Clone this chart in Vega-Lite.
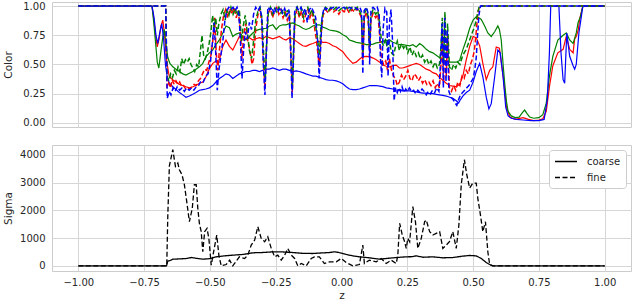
{
"$schema": "https://vega.github.io/schema/vega-lite/v6.json",
"padding": {"left": 2, "top": 0, "right": 1, "bottom": 0},
"spacing": 15,
"resolve": {"legend": {"strokeDash": "independent"}},
"datasets": {
"cr": [{"x":-1,"y":1},{"x":-0.72,"y":1},{"x":-0.714,"y":0.9},{"x":-0.708,"y":0.78},{"x":-0.7,"y":0.65},{"x":-0.693,"y":0.72},{"x":-0.686,"y":0.83},{"x":-0.679,"y":0.88},{"x":-0.672,"y":0.75},{"x":-0.665,"y":0.55},{"x":-0.658,"y":0.44},{"x":-0.654,"y":0.395},{"x":-0.641,"y":0.37},{"x":-0.629,"y":0.35},{"x":-0.616,"y":0.33},{"x":-0.603,"y":0.32},{"x":-0.591,"y":0.31},{"x":-0.578,"y":0.3},{"x":-0.565,"y":0.31},{"x":-0.553,"y":0.32},{"x":-0.54,"y":0.34},{"x":-0.527,"y":0.35},{"x":-0.515,"y":0.395},{"x":-0.502,"y":0.465},{"x":-0.489,"y":0.51},{"x":-0.477,"y":0.53},{"x":-0.464,"y":0.54},{"x":-0.451,"y":0.655},{"x":-0.439,"y":0.71},{"x":-0.426,"y":0.655},{"x":-0.413,"y":0.625},{"x":-0.401,"y":0.68},{"x":-0.388,"y":0.74},{"x":-0.375,"y":0.73},{"x":-0.363,"y":0.72},{"x":-0.35,"y":0.73},{"x":-0.337,"y":0.71},{"x":-0.325,"y":0.72},{"x":-0.312,"y":0.73},{"x":-0.3,"y":0.72},{"x":-0.287,"y":0.74},{"x":-0.274,"y":0.73},{"x":-0.261,"y":0.72},{"x":-0.248,"y":0.73},{"x":-0.236,"y":0.74},{"x":-0.223,"y":0.72},{"x":-0.211,"y":0.71},{"x":-0.198,"y":0.73},{"x":-0.185,"y":0.72},{"x":-0.172,"y":0.7},{"x":-0.16,"y":0.68},{"x":-0.147,"y":0.66},{"x":-0.135,"y":0.655},{"x":-0.122,"y":0.67},{"x":-0.109,"y":0.68},{"x":-0.097,"y":0.69},{"x":-0.084,"y":0.7},{"x":-0.071,"y":0.69},{"x":-0.059,"y":0.69},{"x":-0.046,"y":0.68},{"x":-0.033,"y":0.66},{"x":-0.02,"y":0.65},{"x":-0.008,"y":0.63},{"x":0.005,"y":0.61},{"x":0.018,"y":0.57},{"x":0.03,"y":0.54},{"x":0.043,"y":0.51},{"x":0.056,"y":0.52},{"x":0.068,"y":0.545},{"x":0.081,"y":0.567},{"x":0.094,"y":0.57},{"x":0.107,"y":0.567},{"x":0.12,"y":0.555},{"x":0.132,"y":0.54},{"x":0.145,"y":0.52},{"x":0.157,"y":0.495},{"x":0.17,"y":0.485},{"x":0.183,"y":0.48},{"x":0.195,"y":0.49},{"x":0.208,"y":0.495},{"x":0.22,"y":0.47},{"x":0.233,"y":0.47},{"x":0.246,"y":0.48},{"x":0.259,"y":0.49},{"x":0.271,"y":0.5},{"x":0.284,"y":0.51},{"x":0.297,"y":0.5},{"x":0.309,"y":0.48},{"x":0.322,"y":0.46},{"x":0.335,"y":0.45},{"x":0.347,"y":0.43},{"x":0.36,"y":0.42},{"x":0.372,"y":0.39},{"x":0.385,"y":0.365},{"x":0.398,"y":0.34},{"x":0.411,"y":0.32},{"x":0.423,"y":0.315},{"x":0.436,"y":0.31},{"x":0.449,"y":0.33},{"x":0.461,"y":0.4},{"x":0.474,"y":0.54},{"x":0.487,"y":0.655},{"x":0.5,"y":0.74},{"x":0.512,"y":0.73},{"x":0.525,"y":0.66},{"x":0.537,"y":0.51},{"x":0.55,"y":0.37},{"x":0.563,"y":0.45},{"x":0.575,"y":0.48},{"x":0.588,"y":0.65},{"x":0.6,"y":0.64},{"x":0.614,"y":0.4},{"x":0.627,"y":0.13},{"x":0.64,"y":0.05},{"x":0.66,"y":0.03},{"x":0.69,"y":0.045},{"x":0.71,"y":0.03},{"x":0.73,"y":0.02},{"x":0.75,"y":0.025},{"x":0.765,"y":0.035},{"x":0.778,"y":0.1},{"x":0.79,"y":0.31},{"x":0.803,"y":0.49},{"x":0.822,"y":0.6},{"x":0.842,"y":0.63},{"x":0.854,"y":0.74},{"x":0.867,"y":0.63},{"x":0.88,"y":0.6},{"x":0.886,"y":0.72},{"x":0.892,"y":0.74},{"x":0.9,"y":0.8},{"x":0.905,"y":0.89},{"x":0.917,"y":1},{"x":1,"y":1}],
"cg": [{"x":-1,"y":1},{"x":-0.72,"y":1},{"x":-0.713,"y":0.85},{"x":-0.707,"y":0.7},{"x":-0.7,"y":0.52},{"x":-0.694,"y":0.47},{"x":-0.687,"y":0.6},{"x":-0.68,"y":0.72},{"x":-0.674,"y":0.8},{"x":-0.667,"y":0.68},{"x":-0.66,"y":0.56},{"x":-0.652,"y":0.51},{"x":-0.641,"y":0.48},{"x":-0.629,"y":0.46},{"x":-0.616,"y":0.44},{"x":-0.603,"y":0.42},{"x":-0.591,"y":0.41},{"x":-0.578,"y":0.425},{"x":-0.565,"y":0.44},{"x":-0.553,"y":0.46},{"x":-0.54,"y":0.48},{"x":-0.527,"y":0.51},{"x":-0.515,"y":0.567},{"x":-0.502,"y":0.6},{"x":-0.489,"y":0.625},{"x":-0.477,"y":0.67},{"x":-0.464,"y":0.71},{"x":-0.451,"y":0.77},{"x":-0.439,"y":0.83},{"x":-0.426,"y":0.815},{"x":-0.413,"y":0.74},{"x":-0.401,"y":0.76},{"x":-0.388,"y":0.77},{"x":-0.375,"y":0.74},{"x":-0.363,"y":0.71},{"x":-0.35,"y":0.74},{"x":-0.337,"y":0.77},{"x":-0.325,"y":0.79},{"x":-0.312,"y":0.8},{"x":-0.3,"y":0.805},{"x":-0.287,"y":0.81},{"x":-0.274,"y":0.83},{"x":-0.261,"y":0.84},{"x":-0.248,"y":0.8},{"x":-0.236,"y":0.83},{"x":-0.223,"y":0.84},{"x":-0.211,"y":0.84},{"x":-0.198,"y":0.85},{"x":-0.185,"y":0.856},{"x":-0.172,"y":0.84},{"x":-0.16,"y":0.83},{"x":-0.147,"y":0.81},{"x":-0.135,"y":0.8},{"x":-0.122,"y":0.81},{"x":-0.109,"y":0.83},{"x":-0.097,"y":0.84},{"x":-0.084,"y":0.84},{"x":-0.071,"y":0.82},{"x":-0.059,"y":0.81},{"x":-0.046,"y":0.795},{"x":-0.033,"y":0.79},{"x":-0.02,"y":0.785},{"x":-0.008,"y":0.775},{"x":0.005,"y":0.755},{"x":0.018,"y":0.74},{"x":0.03,"y":0.71},{"x":0.043,"y":0.7},{"x":0.056,"y":0.69},{"x":0.068,"y":0.685},{"x":0.081,"y":0.68},{"x":0.094,"y":0.67},{"x":0.107,"y":0.67},{"x":0.12,"y":0.675},{"x":0.132,"y":0.685},{"x":0.145,"y":0.69},{"x":0.157,"y":0.7},{"x":0.17,"y":0.705},{"x":0.183,"y":0.71},{"x":0.195,"y":0.69},{"x":0.208,"y":0.68},{"x":0.22,"y":0.67},{"x":0.233,"y":0.67},{"x":0.246,"y":0.665},{"x":0.259,"y":0.66},{"x":0.271,"y":0.67},{"x":0.284,"y":0.65},{"x":0.297,"y":0.68},{"x":0.309,"y":0.66},{"x":0.322,"y":0.63},{"x":0.335,"y":0.61},{"x":0.347,"y":0.6},{"x":0.36,"y":0.58},{"x":0.372,"y":0.56},{"x":0.385,"y":0.54},{"x":0.398,"y":0.53},{"x":0.411,"y":0.52},{"x":0.423,"y":0.52},{"x":0.436,"y":0.52},{"x":0.449,"y":0.535},{"x":0.461,"y":0.625},{"x":0.474,"y":0.71},{"x":0.487,"y":0.81},{"x":0.5,"y":0.88},{"x":0.512,"y":0.91},{"x":0.522,"y":0.9},{"x":0.531,"y":0.885},{"x":0.544,"y":0.83},{"x":0.556,"y":0.77},{"x":0.569,"y":0.74},{"x":0.582,"y":0.78},{"x":0.594,"y":0.83},{"x":0.6,"y":0.8},{"x":0.607,"y":0.71},{"x":0.614,"y":0.5},{"x":0.62,"y":0.34},{"x":0.627,"y":0.18},{"x":0.633,"y":0.1},{"x":0.645,"y":0.06},{"x":0.66,"y":0.045},{"x":0.675,"y":0.05},{"x":0.688,"y":0.09},{"x":0.696,"y":0.11},{"x":0.705,"y":0.08},{"x":0.715,"y":0.05},{"x":0.73,"y":0.04},{"x":0.75,"y":0.045},{"x":0.765,"y":0.07},{"x":0.778,"y":0.17},{"x":0.79,"y":0.4},{"x":0.803,"y":0.57},{"x":0.822,"y":0.71},{"x":0.842,"y":0.75},{"x":0.854,"y":0.77},{"x":0.867,"y":0.71},{"x":0.88,"y":0.68},{"x":0.892,"y":0.77},{"x":0.899,"y":0.86},{"x":0.908,"y":0.91},{"x":0.917,"y":1},{"x":1,"y":1}],
"cb": [{"x":-1,"y":1},{"x":-0.72,"y":1},{"x":-0.712,"y":0.9},{"x":-0.705,"y":0.75},{"x":-0.698,"y":0.68},{"x":-0.69,"y":0.78},{"x":-0.683,"y":0.85},{"x":-0.676,"y":0.72},{"x":-0.669,"y":0.5},{"x":-0.662,"y":0.39},{"x":-0.654,"y":0.34},{"x":-0.641,"y":0.31},{"x":-0.628,"y":0.285},{"x":-0.616,"y":0.26},{"x":-0.603,"y":0.24},{"x":-0.591,"y":0.22},{"x":-0.578,"y":0.23},{"x":-0.565,"y":0.245},{"x":-0.553,"y":0.26},{"x":-0.54,"y":0.28},{"x":-0.527,"y":0.285},{"x":-0.515,"y":0.29},{"x":-0.502,"y":0.3},{"x":-0.489,"y":0.32},{"x":-0.477,"y":0.35},{"x":-0.464,"y":0.38},{"x":-0.451,"y":0.4},{"x":-0.439,"y":0.42},{"x":-0.426,"y":0.41},{"x":-0.413,"y":0.38},{"x":-0.401,"y":0.4},{"x":-0.388,"y":0.42},{"x":-0.375,"y":0.43},{"x":-0.363,"y":0.44},{"x":-0.35,"y":0.44},{"x":-0.337,"y":0.45},{"x":-0.325,"y":0.45},{"x":-0.312,"y":0.44},{"x":-0.3,"y":0.45},{"x":-0.287,"y":0.46},{"x":-0.274,"y":0.46},{"x":-0.261,"y":0.47},{"x":-0.248,"y":0.46},{"x":-0.236,"y":0.45},{"x":-0.223,"y":0.46},{"x":-0.211,"y":0.46},{"x":-0.198,"y":0.45},{"x":-0.185,"y":0.44},{"x":-0.172,"y":0.445},{"x":-0.16,"y":0.44},{"x":-0.147,"y":0.43},{"x":-0.135,"y":0.42},{"x":-0.122,"y":0.41},{"x":-0.109,"y":0.4},{"x":-0.097,"y":0.4},{"x":-0.084,"y":0.39},{"x":-0.071,"y":0.38},{"x":-0.059,"y":0.37},{"x":-0.046,"y":0.365},{"x":-0.033,"y":0.365},{"x":-0.02,"y":0.36},{"x":-0.008,"y":0.35},{"x":0.005,"y":0.335},{"x":0.018,"y":0.31},{"x":0.03,"y":0.29},{"x":0.043,"y":0.285},{"x":0.056,"y":0.285},{"x":0.068,"y":0.29},{"x":0.081,"y":0.3},{"x":0.094,"y":0.31},{"x":0.107,"y":0.32},{"x":0.12,"y":0.32},{"x":0.132,"y":0.32},{"x":0.145,"y":0.315},{"x":0.157,"y":0.31},{"x":0.17,"y":0.3},{"x":0.183,"y":0.295},{"x":0.195,"y":0.29},{"x":0.208,"y":0.28},{"x":0.22,"y":0.28},{"x":0.233,"y":0.275},{"x":0.246,"y":0.275},{"x":0.259,"y":0.275},{"x":0.271,"y":0.27},{"x":0.284,"y":0.265},{"x":0.297,"y":0.26},{"x":0.309,"y":0.255},{"x":0.322,"y":0.255},{"x":0.335,"y":0.25},{"x":0.347,"y":0.25},{"x":0.36,"y":0.245},{"x":0.372,"y":0.24},{"x":0.385,"y":0.235},{"x":0.398,"y":0.23},{"x":0.411,"y":0.22},{"x":0.423,"y":0.21},{"x":0.436,"y":0.19},{"x":0.445,"y":0.17},{"x":0.452,"y":0.2},{"x":0.461,"y":0.23},{"x":0.474,"y":0.26},{"x":0.487,"y":0.28},{"x":0.5,"y":0.35},{"x":0.512,"y":0.44},{"x":0.525,"y":0.51},{"x":0.537,"y":0.395},{"x":0.55,"y":0.22},{"x":0.56,"y":0.12},{"x":0.569,"y":0.165},{"x":0.582,"y":0.395},{"x":0.594,"y":0.625},{"x":0.603,"y":0.6},{"x":0.614,"y":0.395},{"x":0.624,"y":0.135},{"x":0.633,"y":0.06},{"x":0.645,"y":0.04},{"x":0.665,"y":0.03},{"x":0.69,"y":0.025},{"x":0.72,"y":0.02},{"x":0.75,"y":0.02},{"x":0.77,"y":0.03},{"x":0.782,"y":0.2},{"x":0.79,"y":0.6},{"x":0.795,"y":1},{"x":0.826,"y":1},{"x":0.834,"y":0.6},{"x":0.842,"y":0.37},{"x":0.848,"y":0.34},{"x":0.856,"y":0.77},{"x":0.867,"y":0.57},{"x":0.88,"y":0.49},{"x":0.886,"y":0.46},{"x":0.892,"y":0.5},{"x":0.902,"y":0.77},{"x":0.91,"y":0.89},{"x":0.917,"y":1},{"x":1,"y":1}],
"fr": [{"x":-1,"y":1},{"x":-0.668,"y":1},{"x":-0.663,"y":0.3},{"x":-0.657,"y":0.34},{"x":-0.65,"y":0.3},{"x":-0.643,"y":0.37},{"x":-0.636,"y":0.33},{"x":-0.629,"y":0.36},{"x":-0.622,"y":0.33},{"x":-0.615,"y":0.35},{"x":-0.607,"y":0.31},{"x":-0.6,"y":0.32},{"x":-0.592,"y":0.29},{"x":-0.584,"y":0.3},{"x":-0.576,"y":0.29},{"x":-0.568,"y":0.31},{"x":-0.56,"y":0.33},{"x":-0.552,"y":0.32},{"x":-0.544,"y":0.36},{"x":-0.536,"y":0.38},{"x":-0.528,"y":0.42},{"x":-0.52,"y":0.46},{"x":-0.512,"y":0.45},{"x":-0.504,"y":0.52},{"x":-0.496,"y":0.58},{"x":-0.488,"y":0.72},{"x":-0.482,"y":0.9},{"x":-0.476,"y":0.6},{"x":-0.47,"y":0.45},{"x":-0.464,"y":0.62},{"x":-0.456,"y":0.8},{"x":-0.448,"y":0.92},{"x":-0.44,"y":0.97},{"x":-0.432,"y":0.9},{"x":-0.424,"y":0.98},{"x":-0.416,"y":0.93},{"x":-0.408,"y":0.99},{"x":-0.4,"y":0.9},{"x":-0.392,"y":0.96},{"x":-0.385,"y":0.8},{"x":-0.378,"y":0.55},{"x":-0.372,"y":0.75},{"x":-0.364,"y":0.85},{"x":-0.356,"y":0.7},{"x":-0.348,"y":0.62},{"x":-0.34,"y":0.5},{"x":-0.334,"y":0.55},{"x":-0.326,"y":0.8},{"x":-0.318,"y":0.92},{"x":-0.31,"y":0.98},{"x":-0.303,"y":0.85},{"x":-0.297,"y":0.55},{"x":-0.291,"y":0.3},{"x":-0.286,"y":0.6},{"x":-0.28,"y":0.93},{"x":-0.27,"y":0.98},{"x":-0.262,"y":0.9},{"x":-0.254,"y":0.96},{"x":-0.246,"y":0.99},{"x":-0.238,"y":0.93},{"x":-0.23,"y":0.97},{"x":-0.222,"y":0.9},{"x":-0.214,"y":0.95},{"x":-0.206,"y":0.88},{"x":-0.198,"y":0.93},{"x":-0.192,"y":0.55},{"x":-0.187,"y":0.26},{"x":-0.182,"y":0.6},{"x":-0.176,"y":0.92},{"x":-0.168,"y":0.97},{"x":-0.16,"y":0.9},{"x":-0.152,"y":0.96},{"x":-0.144,"y":0.86},{"x":-0.136,"y":0.93},{"x":-0.128,"y":0.97},{"x":-0.12,"y":0.9},{"x":-0.112,"y":0.95},{"x":-0.104,"y":0.84},{"x":-0.096,"y":0.72},{"x":-0.09,"y":0.6},{"x":-0.084,"y":0.48},{"x":-0.078,"y":0.75},{"x":-0.07,"y":0.92},{"x":-0.06,"y":0.97},{"x":-0.05,"y":0.94},{"x":-0.04,"y":0.98},{"x":-0.03,"y":0.95},{"x":-0.02,"y":0.97},{"x":-0.01,"y":0.93},{"x":0,"y":0.97},{"x":0.01,"y":0.95},{"x":0.02,"y":0.98},{"x":0.03,"y":0.94},{"x":0.04,"y":0.97},{"x":0.05,"y":0.95},{"x":0.06,"y":0.98},{"x":0.07,"y":0.93},{"x":0.076,"y":0.9},{"x":0.081,"y":0.54},{"x":0.087,"y":0.9},{"x":0.095,"y":0.95},{"x":0.102,"y":0.85},{"x":0.107,"y":0.6},{"x":0.112,"y":0.88},{"x":0.12,"y":0.94},{"x":0.13,"y":0.9},{"x":0.138,"y":0.93},{"x":0.145,"y":0.75},{"x":0.152,"y":0.55},{"x":0.16,"y":0.5},{"x":0.168,"y":0.53},{"x":0.175,"y":0.45},{"x":0.182,"y":0.55},{"x":0.19,"y":0.45},{"x":0.198,"y":0.4},{"x":0.205,"y":0.38},{"x":0.212,"y":0.32},{"x":0.22,"y":0.35},{"x":0.228,"y":0.41},{"x":0.236,"y":0.37},{"x":0.244,"y":0.4},{"x":0.252,"y":0.45},{"x":0.26,"y":0.38},{"x":0.268,"y":0.36},{"x":0.276,"y":0.42},{"x":0.284,"y":0.4},{"x":0.292,"y":0.36},{"x":0.3,"y":0.39},{"x":0.308,"y":0.34},{"x":0.316,"y":0.37},{"x":0.324,"y":0.33},{"x":0.332,"y":0.35},{"x":0.34,"y":0.32},{"x":0.348,"y":0.36},{"x":0.356,"y":0.3},{"x":0.364,"y":0.34},{"x":0.372,"y":0.3},{"x":0.378,"y":0.5},{"x":0.383,"y":0.78},{"x":0.388,"y":0.35},{"x":0.393,"y":0.9},{"x":0.398,"y":0.4},{"x":0.403,"y":0.75},{"x":0.41,"y":0.3},{"x":0.418,"y":0.27},{"x":0.426,"y":0.32},{"x":0.434,"y":0.28},{"x":0.442,"y":0.35},{"x":0.45,"y":0.32},{"x":0.458,"y":0.4},{"x":0.466,"y":0.38},{"x":0.474,"y":0.45},{"x":0.482,"y":0.42},{"x":0.49,"y":0.5},{"x":0.498,"y":0.55},{"x":0.505,"y":0.62},{"x":0.512,"y":0.78},{"x":0.518,"y":0.94},{"x":0.524,"y":1},{"x":1,"y":1}],
"fg": [{"x":-1,"y":1},{"x":-0.668,"y":1},{"x":-0.663,"y":0.4},{"x":-0.656,"y":0.36},{"x":-0.649,"y":0.42},{"x":-0.642,"y":0.39},{"x":-0.635,"y":0.45},{"x":-0.628,"y":0.42},{"x":-0.621,"y":0.48},{"x":-0.614,"y":0.44},{"x":-0.607,"y":0.55},{"x":-0.6,"y":0.5},{"x":-0.593,"y":0.54},{"x":-0.586,"y":0.52},{"x":-0.579,"y":0.55},{"x":-0.572,"y":0.5},{"x":-0.565,"y":0.47},{"x":-0.558,"y":0.44},{"x":-0.55,"y":0.5},{"x":-0.543,"y":0.48},{"x":-0.536,"y":0.62},{"x":-0.53,"y":0.75},{"x":-0.524,"y":0.58},{"x":-0.517,"y":0.55},{"x":-0.51,"y":0.6},{"x":-0.503,"y":0.68},{"x":-0.496,"y":0.78},{"x":-0.49,"y":0.92},{"x":-0.484,"y":0.82},{"x":-0.478,"y":0.9},{"x":-0.472,"y":0.75},{"x":-0.466,"y":0.85},{"x":-0.458,"y":0.93},{"x":-0.45,"y":0.97},{"x":-0.442,"y":0.88},{"x":-0.436,"y":0.96},{"x":-0.428,"y":0.92},{"x":-0.42,"y":0.99},{"x":-0.412,"y":0.93},{"x":-0.404,"y":0.98},{"x":-0.396,"y":0.92},{"x":-0.388,"y":0.97},{"x":-0.38,"y":0.7},{"x":-0.374,"y":0.82},{"x":-0.366,"y":0.92},{"x":-0.358,"y":0.78},{"x":-0.35,"y":0.62},{"x":-0.342,"y":0.55},{"x":-0.334,"y":0.7},{"x":-0.326,"y":0.88},{"x":-0.318,"y":0.95},{"x":-0.31,"y":0.99},{"x":-0.302,"y":0.9},{"x":-0.296,"y":0.6},{"x":-0.29,"y":0.35},{"x":-0.285,"y":0.65},{"x":-0.278,"y":0.95},{"x":-0.27,"y":0.99},{"x":-0.262,"y":0.93},{"x":-0.254,"y":0.98},{"x":-0.246,"y":0.95},{"x":-0.238,"y":0.99},{"x":-0.23,"y":0.94},{"x":-0.222,"y":0.97},{"x":-0.214,"y":0.92},{"x":-0.206,"y":0.96},{"x":-0.198,"y":0.95},{"x":-0.192,"y":0.6},{"x":-0.187,"y":0.3},{"x":-0.182,"y":0.65},{"x":-0.176,"y":0.95},{"x":-0.168,"y":0.99},{"x":-0.16,"y":0.93},{"x":-0.152,"y":0.98},{"x":-0.144,"y":0.9},{"x":-0.136,"y":0.96},{"x":-0.128,"y":0.99},{"x":-0.12,"y":0.93},{"x":-0.112,"y":0.97},{"x":-0.104,"y":0.9},{"x":-0.096,"y":0.8},{"x":-0.09,"y":0.7},{"x":-0.084,"y":0.58},{"x":-0.078,"y":0.82},{"x":-0.07,"y":0.95},{"x":-0.06,"y":0.99},{"x":-0.05,"y":0.96},{"x":-0.04,"y":0.99},{"x":-0.03,"y":0.97},{"x":-0.02,"y":0.99},{"x":-0.01,"y":0.96},{"x":0,"y":0.98},{"x":0.01,"y":0.97},{"x":0.02,"y":0.99},{"x":0.03,"y":0.96},{"x":0.04,"y":0.99},{"x":0.05,"y":0.97},{"x":0.06,"y":0.99},{"x":0.07,"y":0.95},{"x":0.076,"y":0.92},{"x":0.081,"y":0.6},{"x":0.087,"y":0.94},{"x":0.095,"y":0.97},{"x":0.102,"y":0.9},{"x":0.107,"y":0.65},{"x":0.112,"y":0.92},{"x":0.12,"y":0.97},{"x":0.13,"y":0.93},{"x":0.138,"y":0.96},{"x":0.145,"y":0.85},{"x":0.152,"y":0.7},{"x":0.16,"y":0.66},{"x":0.168,"y":0.72},{"x":0.175,"y":0.62},{"x":0.182,"y":0.7},{"x":0.19,"y":0.6},{"x":0.198,"y":0.58},{"x":0.205,"y":0.65},{"x":0.212,"y":0.7},{"x":0.22,"y":0.62},{"x":0.228,"y":0.68},{"x":0.236,"y":0.64},{"x":0.244,"y":0.67},{"x":0.252,"y":0.6},{"x":0.26,"y":0.65},{"x":0.268,"y":0.58},{"x":0.276,"y":0.62},{"x":0.284,"y":0.57},{"x":0.292,"y":0.6},{"x":0.3,"y":0.55},{"x":0.308,"y":0.58},{"x":0.316,"y":0.52},{"x":0.324,"y":0.55},{"x":0.332,"y":0.5},{"x":0.34,"y":0.53},{"x":0.348,"y":0.48},{"x":0.356,"y":0.52},{"x":0.364,"y":0.47},{"x":0.372,"y":0.5},{"x":0.378,"y":0.65},{"x":0.383,"y":0.9},{"x":0.388,"y":0.5},{"x":0.393,"y":0.95},{"x":0.398,"y":0.55},{"x":0.403,"y":0.85},{"x":0.41,"y":0.48},{"x":0.418,"y":0.45},{"x":0.426,"y":0.5},{"x":0.434,"y":0.47},{"x":0.442,"y":0.52},{"x":0.45,"y":0.5},{"x":0.458,"y":0.56},{"x":0.466,"y":0.6},{"x":0.474,"y":0.63},{"x":0.482,"y":0.68},{"x":0.49,"y":0.73},{"x":0.498,"y":0.78},{"x":0.505,"y":0.82},{"x":0.512,"y":0.88},{"x":0.518,"y":0.95},{"x":0.524,"y":1},{"x":1,"y":1}],
"fb": [{"x":-1,"y":1},{"x":-0.668,"y":1},{"x":-0.662,"y":0.21},{"x":-0.655,"y":0.27},{"x":-0.648,"y":0.24},{"x":-0.64,"y":0.3},{"x":-0.632,"y":0.27},{"x":-0.624,"y":0.31},{"x":-0.615,"y":0.28},{"x":-0.606,"y":0.3},{"x":-0.597,"y":0.27},{"x":-0.588,"y":0.3},{"x":-0.579,"y":0.28},{"x":-0.57,"y":0.3},{"x":-0.561,"y":0.28},{"x":-0.552,"y":0.31},{"x":-0.543,"y":0.32},{"x":-0.534,"y":0.36},{"x":-0.525,"y":0.35},{"x":-0.516,"y":0.4},{"x":-0.507,"y":0.42},{"x":-0.498,"y":0.52},{"x":-0.49,"y":0.7},{"x":-0.484,"y":0.86},{"x":-0.478,"y":0.6},{"x":-0.472,"y":0.28},{"x":-0.466,"y":0.45},{"x":-0.458,"y":0.58},{"x":-0.45,"y":0.72},{"x":-0.443,"y":0.88},{"x":-0.436,"y":0.96},{"x":-0.428,"y":0.99},{"x":-0.42,"y":0.97},{"x":-0.412,"y":0.99},{"x":-0.404,"y":0.96},{"x":-0.397,"y":0.99},{"x":-0.39,"y":0.93},{"x":-0.384,"y":0.7},{"x":-0.378,"y":0.38},{"x":-0.372,"y":0.62},{"x":-0.366,"y":0.78},{"x":-0.358,"y":0.72},{"x":-0.35,"y":0.86},{"x":-0.342,"y":0.8},{"x":-0.334,"y":0.93},{"x":-0.326,"y":0.99},{"x":-0.318,"y":0.96},{"x":-0.31,"y":0.99},{"x":-0.303,"y":0.9},{"x":-0.297,"y":0.5},{"x":-0.291,"y":0.24},{"x":-0.286,"y":0.55},{"x":-0.28,"y":0.99},{"x":-0.272,"y":0.97},{"x":-0.264,"y":0.99},{"x":-0.256,"y":0.93},{"x":-0.248,"y":0.99},{"x":-0.24,"y":0.96},{"x":-0.232,"y":0.99},{"x":-0.224,"y":0.94},{"x":-0.216,"y":0.98},{"x":-0.208,"y":0.92},{"x":-0.2,"y":0.97},{"x":-0.193,"y":0.6},{"x":-0.188,"y":0.21},{"x":-0.183,"y":0.5},{"x":-0.178,"y":0.95},{"x":-0.17,"y":0.99},{"x":-0.162,"y":0.96},{"x":-0.154,"y":0.99},{"x":-0.146,"y":0.94},{"x":-0.138,"y":0.98},{"x":-0.13,"y":0.86},{"x":-0.122,"y":0.97},{"x":-0.114,"y":0.99},{"x":-0.106,"y":0.95},{"x":-0.098,"y":0.9},{"x":-0.09,"y":0.68},{"x":-0.085,"y":0.38},{"x":-0.08,"y":0.6},{"x":-0.074,"y":0.9},{"x":-0.066,"y":0.99},{"x":-0.058,"y":0.97},{"x":-0.05,"y":0.99},{"x":-0.04,"y":0.98},{"x":-0.03,"y":0.99},{"x":-0.02,"y":0.97},{"x":-0.01,"y":0.99},{"x":0,"y":0.98},{"x":0.01,"y":0.99},{"x":0.02,"y":0.97},{"x":0.03,"y":0.99},{"x":0.04,"y":0.98},{"x":0.05,"y":0.99},{"x":0.06,"y":0.97},{"x":0.07,"y":0.99},{"x":0.076,"y":0.95},{"x":0.081,"y":0.42},{"x":0.086,"y":0.96},{"x":0.095,"y":0.99},{"x":0.102,"y":0.93},{"x":0.107,"y":0.5},{"x":0.112,"y":0.97},{"x":0.12,"y":0.99},{"x":0.128,"y":0.97},{"x":0.136,"y":0.99},{"x":0.143,"y":0.93},{"x":0.148,"y":0.55},{"x":0.153,"y":0.39},{"x":0.158,"y":0.8},{"x":0.165,"y":0.98},{"x":0.172,"y":0.95},{"x":0.177,"y":0.4},{"x":0.182,"y":0.85},{"x":0.188,"y":0.97},{"x":0.194,"y":0.7},{"x":0.2,"y":0.19},{"x":0.205,"y":0.3},{"x":0.212,"y":0.26},{"x":0.218,"y":0.3},{"x":0.224,"y":0.27},{"x":0.23,"y":0.31},{"x":0.237,"y":0.26},{"x":0.244,"y":0.29},{"x":0.25,"y":0.27},{"x":0.258,"y":0.3},{"x":0.266,"y":0.27},{"x":0.274,"y":0.28},{"x":0.282,"y":0.25},{"x":0.29,"y":0.28},{"x":0.298,"y":0.26},{"x":0.306,"y":0.29},{"x":0.314,"y":0.27},{"x":0.322,"y":0.24},{"x":0.33,"y":0.27},{"x":0.338,"y":0.25},{"x":0.346,"y":0.28},{"x":0.354,"y":0.26},{"x":0.362,"y":0.3},{"x":0.37,"y":0.27},{"x":0.377,"y":0.55},{"x":0.382,"y":0.85},{"x":0.387,"y":0.3},{"x":0.392,"y":0.9},{"x":0.397,"y":0.35},{"x":0.402,"y":0.8},{"x":0.408,"y":0.27},{"x":0.416,"y":0.22},{"x":0.424,"y":0.2},{"x":0.432,"y":0.17},{"x":0.438,"y":0.15},{"x":0.445,"y":0.2},{"x":0.452,"y":0.24},{"x":0.46,"y":0.26},{"x":0.468,"y":0.28},{"x":0.476,"y":0.3},{"x":0.484,"y":0.32},{"x":0.492,"y":0.35},{"x":0.5,"y":0.38},{"x":0.506,"y":0.45},{"x":0.512,"y":0.56},{"x":0.517,"y":0.75},{"x":0.522,"y":0.92},{"x":0.528,"y":1},{"x":1,"y":1}],
"sig": [{"k":"coarse","x":-1,"y":0},{"k":"coarse","x":-0.665,"y":0},{"k":"coarse","x":-0.66,"y":170},{"k":"coarse","x":-0.65,"y":200},{"k":"coarse","x":-0.641,"y":240},{"k":"coarse","x":-0.615,"y":250},{"k":"coarse","x":-0.59,"y":265},{"k":"coarse","x":-0.57,"y":300},{"k":"coarse","x":-0.55,"y":270},{"k":"coarse","x":-0.527,"y":240},{"k":"coarse","x":-0.5,"y":260},{"k":"coarse","x":-0.476,"y":325},{"k":"coarse","x":-0.445,"y":360},{"k":"coarse","x":-0.413,"y":385},{"k":"coarse","x":-0.375,"y":410},{"k":"coarse","x":-0.337,"y":470},{"k":"coarse","x":-0.3,"y":480},{"k":"coarse","x":-0.261,"y":505},{"k":"coarse","x":-0.223,"y":500},{"k":"coarse","x":-0.185,"y":480},{"k":"coarse","x":-0.147,"y":450},{"k":"coarse","x":-0.109,"y":445},{"k":"coarse","x":-0.084,"y":460},{"k":"coarse","x":-0.046,"y":480},{"k":"coarse","x":-0.027,"y":505},{"k":"coarse","x":-0.008,"y":480},{"k":"coarse","x":0.018,"y":410},{"k":"coarse","x":0.043,"y":360},{"k":"coarse","x":0.068,"y":325},{"k":"coarse","x":0.106,"y":290},{"k":"coarse","x":0.144,"y":240},{"k":"coarse","x":0.17,"y":265},{"k":"coarse","x":0.208,"y":300},{"k":"coarse","x":0.245,"y":325},{"k":"coarse","x":0.27,"y":330},{"k":"coarse","x":0.284,"y":360},{"k":"coarse","x":0.31,"y":310},{"k":"coarse","x":0.347,"y":325},{"k":"coarse","x":0.385,"y":290},{"k":"coarse","x":0.423,"y":300},{"k":"coarse","x":0.461,"y":350},{"k":"coarse","x":0.487,"y":375},{"k":"coarse","x":0.512,"y":360},{"k":"coarse","x":0.531,"y":265},{"k":"coarse","x":0.55,"y":120},{"k":"coarse","x":0.563,"y":50},{"k":"coarse","x":0.575,"y":0},{"k":"coarse","x":1,"y":0},
{"k":"fine","x":-1,"y":0},{"k":"fine","x":-0.664,"y":0},{"k":"fine","x":-0.66,"y":1800},{"k":"fine","x":-0.654,"y":3600},{"k":"fine","x":-0.641,"y":4180},{"k":"fine","x":-0.631,"y":3580},{"k":"fine","x":-0.622,"y":3700},{"k":"fine","x":-0.616,"y":3460},{"k":"fine","x":-0.606,"y":3280},{"k":"fine","x":-0.597,"y":2920},{"k":"fine","x":-0.588,"y":2310},{"k":"fine","x":-0.578,"y":1590},{"k":"fine","x":-0.567,"y":2070},{"k":"fine","x":-0.559,"y":2920},{"k":"fine","x":-0.552,"y":2920},{"k":"fine","x":-0.546,"y":2070},{"k":"fine","x":-0.54,"y":1530},{"k":"fine","x":-0.533,"y":1230},{"k":"fine","x":-0.527,"y":506},{"k":"fine","x":-0.52,"y":1230},{"k":"fine","x":-0.511,"y":1350},{"k":"fine","x":-0.504,"y":990},{"k":"fine","x":-0.495,"y":24},{"k":"fine","x":-0.486,"y":506},{"k":"fine","x":-0.474,"y":1110},{"k":"fine","x":-0.466,"y":386},{"k":"fine","x":-0.457,"y":0},{"k":"fine","x":-0.438,"y":48},{"k":"fine","x":-0.425,"y":205},{"k":"fine","x":-0.413,"y":0},{"k":"fine","x":-0.388,"y":325},{"k":"fine","x":-0.368,"y":265},{"k":"fine","x":-0.356,"y":386},{"k":"fine","x":-0.343,"y":747},{"k":"fine","x":-0.33,"y":928},{"k":"fine","x":-0.318,"y":1410},{"k":"fine","x":-0.305,"y":990},{"k":"fine","x":-0.292,"y":868},{"k":"fine","x":-0.28,"y":1048},{"k":"fine","x":-0.267,"y":627},{"k":"fine","x":-0.254,"y":325},{"k":"fine","x":-0.242,"y":386},{"k":"fine","x":-0.229,"y":205},{"k":"fine","x":-0.216,"y":386},{"k":"fine","x":-0.204,"y":627},{"k":"fine","x":-0.191,"y":386},{"k":"fine","x":-0.178,"y":265},{"k":"fine","x":-0.166,"y":0},{"k":"fine","x":-0.153,"y":84},{"k":"fine","x":-0.134,"y":0},{"k":"fine","x":-0.115,"y":265},{"k":"fine","x":-0.103,"y":325},{"k":"fine","x":-0.084,"y":325},{"k":"fine","x":-0.065,"y":84},{"k":"fine","x":-0.046,"y":145},{"k":"fine","x":-0.02,"y":145},{"k":"fine","x":-0.001,"y":265},{"k":"fine","x":0.018,"y":120},{"k":"fine","x":0.043,"y":0},{"k":"fine","x":0.068,"y":48},{"k":"fine","x":0.081,"y":747},{"k":"fine","x":0.087,"y":84},{"k":"fine","x":0.106,"y":205},{"k":"fine","x":0.132,"y":145},{"k":"fine","x":0.151,"y":265},{"k":"fine","x":0.17,"y":84},{"k":"fine","x":0.189,"y":205},{"k":"fine","x":0.208,"y":84},{"k":"fine","x":0.214,"y":386},{"k":"fine","x":0.221,"y":1530},{"k":"fine","x":0.231,"y":1110},{"k":"fine","x":0.24,"y":868},{"k":"fine","x":0.246,"y":627},{"k":"fine","x":0.252,"y":990},{"k":"fine","x":0.259,"y":868},{"k":"fine","x":0.271,"y":2130},{"k":"fine","x":0.281,"y":1590},{"k":"fine","x":0.29,"y":627},{"k":"fine","x":0.303,"y":990},{"k":"fine","x":0.316,"y":1590},{"k":"fine","x":0.322,"y":1650},{"k":"fine","x":0.335,"y":1230},{"k":"fine","x":0.347,"y":1110},{"k":"fine","x":0.36,"y":1170},{"k":"fine","x":0.373,"y":1230},{"k":"fine","x":0.385,"y":627},{"k":"fine","x":0.398,"y":747},{"k":"fine","x":0.41,"y":868},{"k":"fine","x":0.423,"y":1230},{"k":"fine","x":0.436,"y":627},{"k":"fine","x":0.446,"y":1470},{"k":"fine","x":0.455,"y":2920},{"k":"fine","x":0.467,"y":3820},{"k":"fine","x":0.476,"y":3280},{"k":"fine","x":0.487,"y":2800},{"k":"fine","x":0.499,"y":2980},{"k":"fine","x":0.512,"y":2980},{"k":"fine","x":0.518,"y":2430},{"k":"fine","x":0.527,"y":1890},{"k":"fine","x":0.537,"y":1230},{"k":"fine","x":0.547,"y":1590},{"k":"fine","x":0.556,"y":506},{"k":"fine","x":0.563,"y":48},{"k":"fine","x":0.575,"y":0},{"k":"fine","x":1,"y":0}]
},
"vconcat": [
{
"width": 579, "height": 125,
"encoding": {
"x": {"field": "x", "type": "quantitative", "scale": {"domain": [-1.1, 1.1], "nice": false, "zero": false},
 "axis": {"values": [-1, -0.75, -0.5, -0.25, 0, 0.25, 0.5, 0.75, 1], "labels": false, "title": null, "grid": true}},
"y": {"field": "y", "type": "quantitative", "scale": {"domain": [-0.035, 1.035], "nice": false, "zero": false},
 "axis": {"values": [0, 0.25, 0.5, 0.75, 1], "format": ".2f", "title": "Color", "minExtent": 33, "maxExtent": 33, "titlePadding": 6}}
},
"layer": [
{"data": {"name": "cr"}, "mark": {"type": "line", "color": "#ff0000", "strokeWidth": 1.2}},
{"data": {"name": "cg"}, "mark": {"type": "line", "color": "#008000", "strokeWidth": 1.2}},
{"data": {"name": "cb"}, "mark": {"type": "line", "color": "#0000ff", "strokeWidth": 1.2}},
{"data": {"name": "fr"}, "mark": {"type": "line", "color": "#ff0000", "strokeWidth": 1.5, "strokeDash": [5, 2.5]}},
{"data": {"name": "fg"}, "mark": {"type": "line", "color": "#008000", "strokeWidth": 1.5, "strokeDash": [5, 2.5]}},
{"data": {"name": "fb"}, "mark": {"type": "line", "color": "#0000ff", "strokeWidth": 1.5, "strokeDash": [5, 2.5]}}
]
},
{
"width": 579, "height": 126,
"data": {"name": "sig"},
"mark": {"type": "line", "color": "#000000", "strokeWidth": 1.3},
"encoding": {
"x": {"field": "x", "type": "quantitative", "scale": {"domain": [-1.1, 1.1], "nice": false, "zero": false},
 "axis": {"values": [-1, -0.75, -0.5, -0.25, 0, 0.25, 0.5, 0.75, 1], "format": ".2f", "title": "z", "grid": true, "labelPadding": 6, "titlePadding": 3}},
"y": {"field": "y", "type": "quantitative", "scale": {"domain": [-185, 4350], "nice": false, "zero": false},
 "axis": {"values": [0, 1000, 2000, 3000, 4000], "format": "d", "title": "Sigma", "minExtent": 33, "maxExtent": 33, "titlePadding": 6}},
"strokeDash": {"field": "k", "type": "nominal", "title": null,
 "scale": {"domain": ["coarse", "fine"], "range": [[1, 0], [5, 2.5]]},
 "legend": {"orient": "top-right", "offset": 5, "symbolType": "M-1,0H3", "symbolSize": 121, "labelOffset": 20, "rowPadding": 4}}
}
}
],
"config": {
"font": "DejaVu Sans",
"view": {"stroke": "#cccccc", "strokeWidth": 1},
"axis": {"gridColor": "#d6d6d6", "gridWidth": 1, "domain": false, "ticks": false, "labelFontSize": 10, "labelColor": "#262626", "titleFontSize": 10.5, "titleFontWeight": "normal", "titleColor": "#262626", "labelPadding": 7},
"legend": {"strokeColor": "#cccccc", "fillColor": "#ffffff", "padding": 5, "cornerRadius": 3, "labelFontSize": 10, "labelColor": "#262626", "symbolStrokeColor": "#000000", "symbolStrokeWidth": 1.5, "symbolFillColor": "transparent"}
}
}
